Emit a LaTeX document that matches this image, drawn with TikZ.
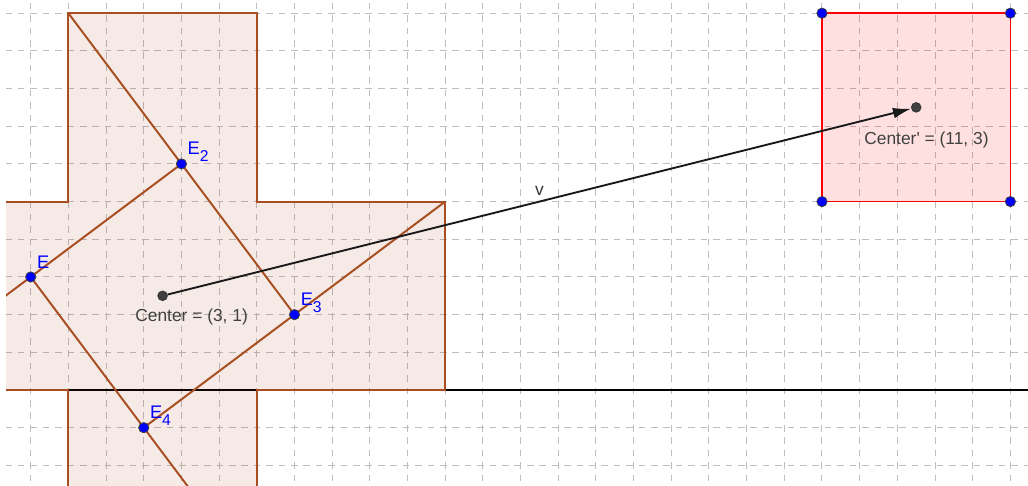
\documentclass[tikz,border=0pt]{standalone}
\usepackage{fontspec}
\setmainfont{Liberation Sans}
\usetikzlibrary{arrows.meta}
\definecolor{brownline}{HTML}{A84E22}
\definecolor{brownfill}{HTML}{993300}
\definecolor{ptblue}{HTML}{0000FF}
\definecolor{ptgray}{HTML}{404040}
\definecolor{gridgray}{HTML}{BEBEBE}
\tikzset{gridline/.style={draw=gridgray,line width=0.6pt,dash pattern=on 4pt off 3.5pt}, piece/.style={draw=brownline,line width=1.2pt}, image/.style={draw=red,line width=1pt,fill=red,fill opacity=0.12,draw opacity=1}, bpt/.style={circle,fill=ptblue,draw=black!75,line width=0.5pt,inner sep=0pt,minimum size=6.2pt}, gpt/.style={circle,fill=ptgray,draw=black!80,line width=0.5pt,inner sep=0pt,minimum size=5.8pt}, elbl/.style={text=ptblue,font=\fontsize{11}{13}\selectfont,anchor=base west,inner sep=0pt,xshift=3.6pt,yshift=5.4pt}, clbl/.style={text=ptgray,font=\fontsize{10.5}{12}\selectfont,anchor=base west,inner sep=0pt}, vec/.style={-{Latex[length=11pt,width=6.5pt]},line width=1.1pt,draw=black!90}}
\newcommand{\esub}[1]{\raisebox{-4.2pt}{\fontsize{9.5}{10}\selectfont #1}}

\begin{document}
\begin{tikzpicture}[x=2cm,y=2cm]
\useasboundingbox (1.274,-1.019) rectangle (12.187,4.140);
\clip (1.34,-1.019) rectangle (12.187,4.140);
% grid and axis
\foreach \i in {4,...,30} \draw[gridline] (\i*0.4,-1.1) -- (\i*0.4,4.2);
\foreach \j in {-2,...,10} \draw[gridline] (1.2,\j*0.4) -- (12.3,\j*0.4);
\draw[black,line width=0.8pt] (1.2,0) -- (12.3,0);
% cross and its image
\filldraw[piece,fill=brownfill,fill opacity=0.1] (2,4) -- (4,4) -- (4,2) -- (6,2) -- (6,0) -- (4,0) -- (4,-2) -- (2,-2) -- (2,0) -- (0,0) -- (0,2) -- (2,2) -- cycle;
\coordinate (s1) at (10,2);
\coordinate (s2) at (12,2);
\coordinate (s3) at (12,4);
\coordinate (s4) at (10,4);
\filldraw[image] (s1) -- (s2) -- (s3) -- (s4) -- cycle;
% cuts
\coordinate (k1) at (0,0);
\coordinate (k2) at (2,4);
\coordinate (k3) at (6,2);
\coordinate (k4) at (4,-2);
\coordinate (E1) at (1.6,1.2);
\coordinate (E2) at (3.2,2.4);
\coordinate (E3) at (4.4,0.8);
\coordinate (E4) at (2.8,-0.4);
\draw[piece] (k1) -- (E2);
\draw[piece] (k2) -- (E3);
\draw[piece] (k3) -- (E4);
\draw[piece] (k4) -- (E1);
% points
\node[bpt] (pE1) at (E1) {};
\node[bpt] (pE2) at (E2) {};
\node[bpt] (pE3) at (E3) {};
\node[bpt] (pE4) at (E4) {};
\node[elbl] (lE1) at (E1) {E};
\node[elbl] (lE2) at (E2) {E\esub{2}};
\node[elbl] (lE3) at (E3) {E\esub{3}};
\node[elbl] (lE4) at (E4) {E\esub{4}};
\node[bpt] (ps1) at (s1) {};
\node[bpt] (ps2) at (s2) {};
\node[bpt] (ps3) at (s3) {};
\node[bpt] (ps4) at (s4) {};
\node[gpt] (c) at (3,1) {};
\node[gpt] (c2) at (11,3) {};
\node[clbl] (lc) at (2.707,0.732) {Center = (3, 1)};
\node[clbl] (lc2) at (10.446,2.611) {Center\textquotesingle{} = (11, 3)};
\draw[vec] (c) -- node[clbl,midway,anchor=base,above=3pt,text=black!80] (lv) {v} (c2);
\end{tikzpicture}
\end{document}
